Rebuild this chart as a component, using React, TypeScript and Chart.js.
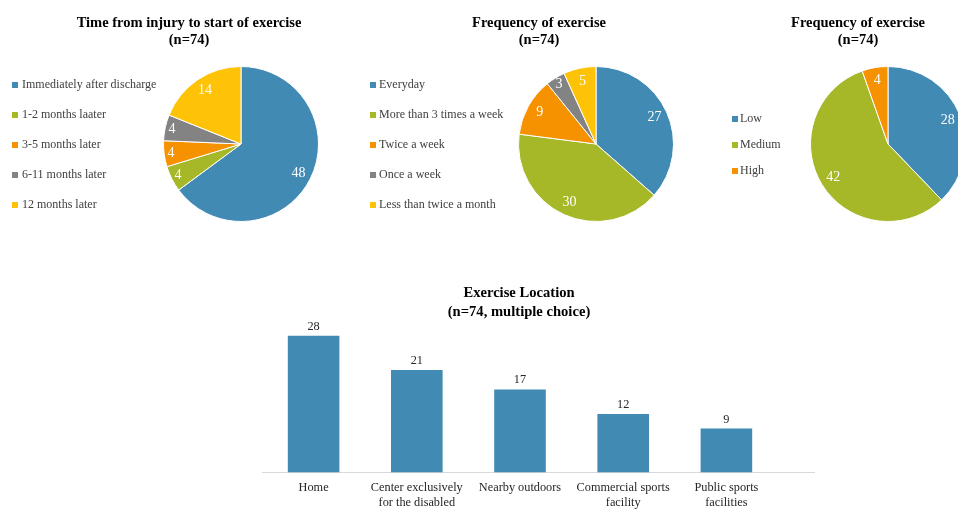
import React, { useEffect, useRef } from "react";
import { Chart, registerables } from "chart.js";

Chart.register(...registerables);

const FONT = "'Liberation Serif', 'Times New Roman', serif";
Chart.defaults.font.family = FONT;

// Time from injury to start of exercise
const startLabels = [
  "Immediately after discharge",
  "1-2 months laater",
  "3-5 months later",
  "6-11 months later",
  "12 months later",
];
const startValues = [48, 4, 4, 4, 14];

// Frequency of exercise
const freqLabels = [
  "Everyday",
  "More than 3 times a week",
  "Twice a week",
  "Once a week",
  "Less than twice a month",
];
const freqValues = [27, 30, 9, 3, 5];

// Frequency of exercise (intensity groups)
const levelLabels = ["Low", "Medium", "High"];
const levelValues = [28, 42, 4];

// Exercise location (multiple choice)
const locationLabels = [
  ["Home"],
  ["Center exclusively", "for the disabled"],
  ["Nearby outdoors"],
  ["Commercial sports", "facility"],
  ["Public sports", "facilities"],
];
const locationValues = [28, 21, 17, 12, 9];

const palette = ["#418AB3", "#A6B727", "#F69200", "#838383", "#FEC306"];

// Two-line bold heading drawn at a given centre.
const titlePlugin = {
  id: "panelTitle",
  afterDraw(chart: any, _args: any, opts: any) {
    const { ctx } = chart;
    ctx.save();
    ctx.font = `bold ${opts.size}px ${FONT}`;
    ctx.fillStyle = "#000";
    ctx.textAlign = "center";
    ctx.textBaseline = "alphabetic";
    (opts.lines as string[]).forEach((t, i) => ctx.fillText(t, opts.x, opts.y + i * opts.gap));
    ctx.restore();
  },
};

// Vertical legend column, centred on the plot area.
const sideLegendPlugin = {
  id: "sideLegend",
  afterDraw(chart: any, _args: any, opts: any) {
    const { ctx, chartArea } = chart;
    const labels: string[] = chart.data.labels;
    const colors: string[] = chart.data.datasets[0].backgroundColor;
    const cy = (chartArea.top + chartArea.bottom) / 2 + 1;
    const n = labels.length;
    ctx.save();
    ctx.font = `${opts.size}px ${FONT}`;
    ctx.textAlign = "left";
    ctx.textBaseline = "middle";
    labels.forEach((label, i) => {
      const y = cy + (i - (n - 1) / 2) * opts.step;
      ctx.fillStyle = colors[i];
      ctx.fillRect(opts.x, Math.round(y - opts.box / 2), opts.box, opts.box);
      ctx.fillStyle = "#404040";
      ctx.fillText(label, opts.x + opts.box + opts.gap, y);
    });
    ctx.restore();
  },
};

// White value labels inside each slice.
const sliceLabelPlugin = {
  id: "sliceLabels",
  afterDatasetsDraw(chart: any, _args: any, opts: any) {
    const { ctx } = chart;
    const meta = chart.getDatasetMeta(0);
    const values = chart.data.datasets[0].data;
    ctx.save();
    ctx.font = `${opts.size}px ${FONT}`;
    ctx.fillStyle = "#fff";
    ctx.textAlign = "center";
    ctx.textBaseline = "middle";
    meta.data.forEach((arc: any, i: number) => {
      const p = arc.getProps(["x", "y", "startAngle", "endAngle", "outerRadius"], true);
      const mid = (p.startAngle + p.endAngle) / 2;
      const span = p.endAngle - p.startAngle;
      const f = span < opts.narrow ? 0.91 : 0.83;
      ctx.fillText(
        String(values[i]),
        p.x + Math.cos(mid) * p.outerRadius * f,
        p.y + Math.sin(mid) * p.outerRadius * f
      );
    });
    ctx.restore();
  },
};

// Values printed above the bars.
const barValuePlugin = {
  id: "barValues",
  afterDatasetsDraw(chart: any) {
    const { ctx } = chart;
    const meta = chart.getDatasetMeta(0);
    const values = chart.data.datasets[0].data;
    ctx.save();
    ctx.font = `12.3px ${FONT}`;
    ctx.fillStyle = "#262626";
    ctx.textAlign = "center";
    ctx.textBaseline = "alphabetic";
    meta.data.forEach((bar: any, i: number) => {
      ctx.fillText(String(values[i]), bar.x, bar.y - 6);
    });
    ctx.restore();
  },
};

// Light category-axis line, running a little past the last category.
const baselinePlugin = {
  id: "baseline",
  beforeDatasetsDraw(chart: any, _args: any, opts: any) {
    const { ctx, chartArea } = chart;
    const y = Math.round(chart.scales.y.getPixelForValue(0)) + 0.5;
    ctx.save();
    ctx.strokeStyle = "#D9D9D9";
    ctx.lineWidth = 1;
    ctx.beginPath();
    ctx.moveTo(chartArea.left, y);
    ctx.lineTo(chartArea.right + opts.extend, y);
    ctx.stroke();
    ctx.restore();
  },
};

function pieConfig(
  labels: string[],
  values: number[],
  legend: any,
  padding: any,
  title: any,
  narrow: number
) {
  return {
    type: "pie",
    data: {
      labels,
      datasets: [
        {
          data: values,
          backgroundColor: palette.slice(0, values.length),
          borderColor: "#ffffff",
          borderWidth: 1,
        },
      ],
    },
    options: {
      responsive: false,
      animation: false,
      events: [],
      layout: { padding },
      plugins: {
        legend: { display: false },
        tooltip: { enabled: false },
        panelTitle: title,
        sideLegend: legend,
        sliceLabels: { size: 14, narrow },
      },
    },
    plugins: [titlePlugin, sideLegendPlugin, sliceLabelPlugin],
  };
}

const barConfig = {
  type: "bar",
  data: {
    labels: locationLabels,
    datasets: [
      {
        data: locationValues,
        backgroundColor: "#418AB3",
        barPercentage: 0.5,
        categoryPercentage: 1,
      },
    ],
  },
  options: {
    responsive: false,
    animation: false,
    events: [],
    layout: { padding: { top: 56, left: 22, right: 62, bottom: 0 } },
    plugins: {
      legend: { display: false },
      tooltip: { enabled: false },
      panelTitle: {
        lines: ["Exercise Location", "(n=74, multiple choice)"],
        x: 279,
        y: 27,
        gap: 19,
        size: 14.6,
      },
      baseline: { extend: 37 },
    },
    scales: {
      x: {
        grid: { display: false, drawTicks: false },
        border: { display: false },
        ticks: {
          color: "#262626",
          padding: 8,
          autoSkip: false,
          maxRotation: 0,
          font: { family: FONT, size: 12.3 },
        },
      },
      y: { display: false, min: 0, max: 30 },
    },
  },
  plugins: [titlePlugin, barValuePlugin, baselinePlugin],
};

function ChartCanvas({ config, left, top, width, height }: any) {
  const ref = useRef<HTMLCanvasElement | null>(null);
  useEffect(() => {
    const chart = new Chart(ref.current as HTMLCanvasElement, config);
    return () => chart.destroy();
  }, [config]);
  return (
    <canvas
      ref={ref}
      width={width}
      height={height}
      style={{ position: "absolute", left, top, width, height }}
    />
  );
}

const pieStart = pieConfig(
  startLabels,
  startValues,
  { x: 12, box: 6, gap: 4, step: 30, size: 12 },
  { top: 66, bottom: 13, left: 163, right: 21 },
  { lines: ["Time from injury to start of exercise", "(n=74)"], x: 189, y: 27, gap: 17, size: 14.5 },
  0.36
);

const pieFreq = pieConfig(
  freqLabels,
  freqValues,
  { x: 10, box: 6, gap: 3, step: 30, size: 12 },
  { top: 66, bottom: 13, left: 158, right: 16 },
  { lines: ["Frequency of exercise", "(n=74)"], x: 179, y: 27, gap: 17, size: 14.5 },
  0.3
);

const pieLevel = pieConfig(
  levelLabels,
  levelValues,
  { x: 32, box: 6, gap: 2, step: 26, size: 12 },
  { top: 66, bottom: 13, left: 110, right: 34 },
  { lines: ["Frequency of exercise", "(n=74)"], x: 158, y: 27, gap: 17, size: 14.5 },
  0.3
);

export default function App() {
  return (
    <div
      style={{
        position: "fixed",
        left: 0,
        top: 0,
        width: 958,
        height: 509,
        overflow: "hidden",
        background: "#ffffff",
      }}
    >
      <ChartCanvas config={pieStart} left={0} top={0} width={340} height={235} />
      <ChartCanvas config={pieFreq} left={360} top={0} width={330} height={235} />
      <ChartCanvas config={pieLevel} left={700} top={0} width={300} height={235} />
      <ChartCanvas config={barConfig} left={240} top={270} width={600} height={248} />
    </div>
  );
}
